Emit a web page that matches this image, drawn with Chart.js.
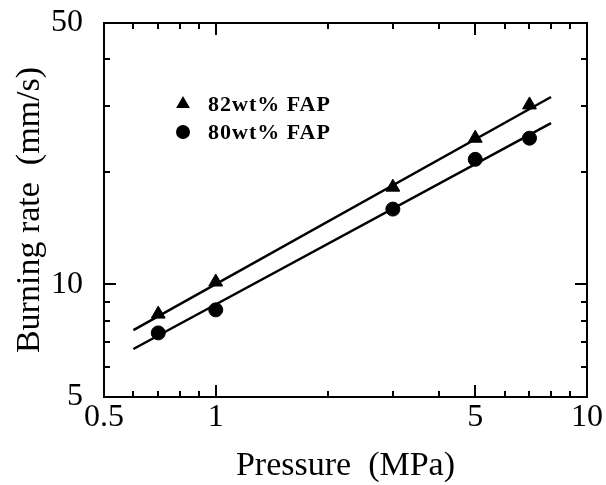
<!DOCTYPE html>
<html>
<head>
<meta charset="utf-8">
<script src="https://cdn.jsdelivr.net/npm/chart.js@4"></script>
<style>
  html, body { margin: 0; padding: 0; background: #fff; }
</style>
</head>
<body>
<canvas id="rateChart" width="606" height="485"></canvas>
<script>
// Burning rate vs pressure, log-log
const pressure = [0.7, 1, 3, 5, 7];
const rate82 = [8.33, 10.15, 18.2, 24.6, 30.2];
const rate80 = [7.42, 8.55, 15.9, 21.6, 24.6];

// fitted lines (end points)
const fitPressure = [0.6, 8];
const fit82 = [7.55, 31.7];
const fit80 = [6.72, 27.0];

const seriesNames = ['82wt% FAP', '80wt% FAP'];

// labelled ticks and inner tick marks
const xTickLabels = [0.5, 1, 5, 10];
const yTickLabels = [5, 10, 50];
const xMajorTicks = [1, 5];
const xMinorTicks = [0.6, 0.7, 0.8, 0.9, 2, 3, 4, 6, 7, 8, 9];
const yMajorTicks = [10];
const yMinorTicks = [6, 7, 8, 9, 20, 30, 40];

const serif = '"Liberation Serif", "DejaVu Serif", serif';

function pairs(xs, ys) {
  return xs.map((v, i) => ({ x: v, y: ys[i] }));
}

// box around the plot plus inward ticks on all four sides
const frameTicks = {
  id: 'frameTicks',
  afterDatasetsDraw(chart) {
    const { ctx, chartArea: a, scales: { x, y } } = chart;
    ctx.save();
    ctx.strokeStyle = '#000';
    ctx.lineWidth = 2;
    ctx.strokeRect(a.left, a.top, a.right - a.left, a.bottom - a.top);
    ctx.beginPath();
    const xt = (vals, len) => vals.forEach(v => {
      const px = Math.round(x.getPixelForValue(v));
      ctx.moveTo(px, a.bottom); ctx.lineTo(px, a.bottom - len);
      ctx.moveTo(px, a.top); ctx.lineTo(px, a.top + len);
    });
    const yt = (vals, len) => vals.forEach(v => {
      const py = Math.round(y.getPixelForValue(v));
      ctx.moveTo(a.left, py); ctx.lineTo(a.left + len, py);
      ctx.moveTo(a.right, py); ctx.lineTo(a.right - len, py);
    });
    xt(xMinorTicks, 6);
    xt(xMajorTicks, 12);
    yt(yMinorTicks, 6);
    yt(yMajorTicks, 12);
    ctx.stroke();
    ctx.restore();
  }
};

// legend in the upper left of the plot
const innerLegend = {
  id: 'innerLegend',
  afterDatasetsDraw(chart) {
    const { ctx, chartArea: a } = chart;
    const styles = [
      { pointStyle: 'triangle', radius: 8, rotation: 0 },
      { pointStyle: 'circle', radius: 7, rotation: 0 }
    ];
    ctx.save();
    ctx.fillStyle = '#000';
    ctx.strokeStyle = '#000';
    ctx.lineWidth = 1;
    ctx.font = 'bold 22px ' + serif;
    ctx.letterSpacing = '1px';
    ctx.textBaseline = 'middle';
    seriesNames.forEach((name, i) => {
      const cy = a.top + 81 + i * 28;
      Chart.helpers.drawPoint(ctx, styles[i], a.left + 79, cy);
      ctx.fillText(name, a.left + 104, cy + 1);
    });
    ctx.restore();
  }
};

const markerSet = (label, data, style, r) => ({
  label,
  data,
  type: 'scatter',
  pointStyle: style,
  pointRadius: r,
  pointHoverRadius: r,
  backgroundColor: '#000',
  borderColor: '#000',
  borderWidth: 1,
  showLine: false
});

const fitSet = (data) => ({
  data,
  type: 'line',
  borderColor: '#000',
  borderWidth: 2.5,
  pointRadius: 0,
  tension: 0,
  fill: false
});

new Chart(document.getElementById('rateChart'), {
  type: 'scatter',
  data: {
    datasets: [
      fitSet(pairs(fitPressure, fit82)),
      fitSet(pairs(fitPressure, fit80)),
      markerSet(seriesNames[0], pairs(pressure, rate82), 'triangle', 8),
      markerSet(seriesNames[1], pairs(pressure, rate80), 'circle', 7)
    ]
  },
  options: {
    responsive: false,
    animation: false,
    layout: { padding: { top: 23, right: 19, left: 0, bottom: 0 } },
    plugins: {
      legend: { display: false },
      tooltip: { enabled: false }
    },
    scales: {
      x: {
        type: 'logarithmic',
        min: 0.5,
        max: 10,
        grid: { display: false },
        border: { display: false },
        afterBuildTicks: s => { s.ticks = xTickLabels.map(v => ({ value: v })); },
        afterFit: s => { s.height = 88; s.paddingLeft = 0; s.paddingRight = 0; },
        ticks: {
          color: '#000',
          padding: -7,
          maxRotation: 0,
          autoSkip: false,
          font: { family: serif, size: 32 },
          callback: v => String(v)
        },
        title: {
          display: true,
          text: 'Pressure  (MPa)',
          color: '#000',
          padding: { top: 0, bottom: 0 },
          font: { family: serif, size: 34, lineHeight: 1.1 }
        }
      },
      y: {
        type: 'logarithmic',
        min: 5,
        max: 50,
        grid: { display: false },
        border: { display: false },
        afterBuildTicks: s => { s.ticks = yTickLabels.map(v => ({ value: v })); },
        afterFit: s => { s.width = 104; s.paddingTop = 0; s.paddingBottom = 0; },
        ticks: {
          color: '#000',
          padding: 13,
          autoSkip: false,
          font: { family: serif, size: 32 },
          callback: v => String(v)
        },
        title: {
          display: true,
          text: 'Burning rate  (mm/s)',
          color: '#000',
          padding: { top: 11, bottom: 0 },
          font: { family: serif, size: 34, lineHeight: 1.1 }
        }
      }
    }
  },
  plugins: [frameTicks, innerLegend]
});
</script>
</body>
</html>
